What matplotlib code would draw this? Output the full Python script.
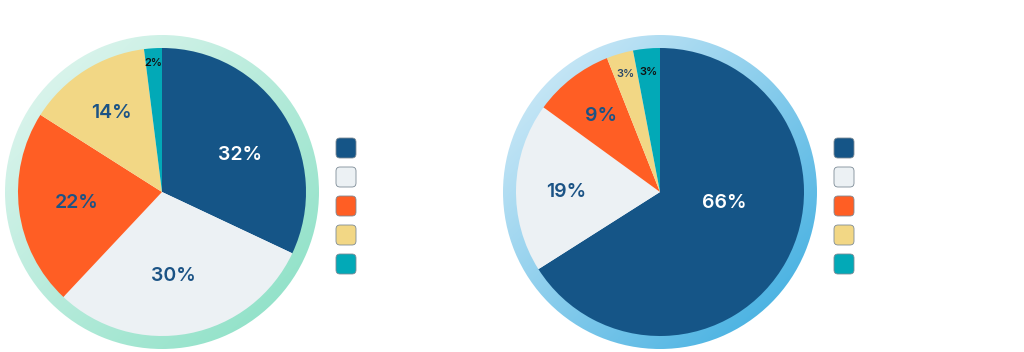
import numpy as np
import matplotlib
matplotlib.use("Agg")
from matplotlib import pyplot as plt
from matplotlib.patches import Wedge, FancyBboxPatch
from matplotlib.colors import LinearSegmentedColormap

# Data
slice_colors = ["#155587", "#ecf1f4", "#ff5e24", "#f2d785", "#02a9b7"]
left_values = [32, 30, 22, 14, 2]
right_values = [66, 19, 9, 3, 3]

# Label styling per slice: distance from centre (fraction of radius),
# angle nudge (deg), font size, colour
left_label_r = [0.6, 0.59, 0.6, 0.65, 0.9]
left_label_shift = [-7, -3, 0, 0, 0]
left_label_size = [14, 14, 14, 14, 8]
left_label_color = ["white", "#1b5385", "#1b5385", "#1b5385", "#111111"]

right_label_r = [0.45, 0.65, 0.67, 0.85, 0.84]
right_label_shift = [19, 2, 0, 0, 0]
right_label_size = [14, 14, 14, 8, 8]
right_label_color = ["white", "#1b5385", "#1b5385", "#2a4868", "#111111"]

plt.rcParams['font.family'] = ['Inter', 'DejaVu Sans']

fig = plt.figure(figsize=(10.24, 3.52), dpi=100)
ax = fig.add_axes([0, 0, 1, 1])
ax.set_xlim(0, 1024)
ax.set_ylim(0, 352)
ax.set_aspect('equal')
ax.axis('off')

H = 352
R = 144
RING_OUT = 157


def draw_ring(cx, cy, c0, c1):
    cmap = LinearSegmentedColormap.from_list("ring", [c0, c1])
    n = 256
    xs = np.linspace(0, 1, n)
    ys = np.linspace(0, 1, n)
    X, Y = np.meshgrid(xs, ys)
    # top-left light -> bottom-right strong (origin lower)
    grad = (X + (1 - Y)) / 2
    im = ax.imshow(grad, cmap=cmap, origin='lower',
                   extent=[cx - RING_OUT, cx + RING_OUT, cy - RING_OUT, cy + RING_OUT],
                   zorder=1, interpolation='bilinear')
    clip = Wedge((cx, cy), RING_OUT, 0, 360, width=RING_OUT - R + 2,
                 transform=ax.transData, facecolor='none', edgecolor='none')
    ax.add_patch(clip)
    im.set_clip_path(clip)


def draw_pie(cx, cy, values, label_r, label_shift, label_size, label_color):
    wedges, _ = ax.pie(values, colors=slice_colors, startangle=90, counterclock=False,
                       center=(cx, cy), radius=R, frame=False,
                       wedgeprops=dict(linewidth=0, antialiased=True))
    for w, v, r, sh, fs, col in zip(wedges, values, label_r, label_shift,
                                    label_size, label_color):
        mid = np.deg2rad((w.theta1 + w.theta2) / 2 + sh)
        ax.text(cx + r * R * np.cos(mid), cy + r * R * np.sin(mid), f"{v}%",
                ha='center', va='center', fontsize=fs, fontweight='semibold',
                color=col, zorder=5)


def draw_legend(x0, ytop):
    for i, c in enumerate(slice_colors):
        y = ytop - i * 29
        box = FancyBboxPatch((x0, y - 20), 20, 20,
                             boxstyle="round,pad=0,rounding_size=4",
                             facecolor=c, edgecolor="#7d8b96", linewidth=0.6,
                             zorder=4)
        ax.add_patch(box)


draw_ring(162, H - 192, "#e6f7f2", "#86dfc3")
draw_pie(162, H - 192, left_values, left_label_r, left_label_shift,
         left_label_size, left_label_color)
draw_legend(336, H - 138)

draw_ring(660, H - 192, "#dbeff9", "#36aadf")
draw_pie(660, H - 192, right_values, right_label_r, right_label_shift,
         right_label_size, right_label_color)
draw_legend(834, H - 138)

ax.set_xlim(0, 1024)
ax.set_ylim(0, 352)

fig.savefig("out.png", dpi=100, facecolor="white")
